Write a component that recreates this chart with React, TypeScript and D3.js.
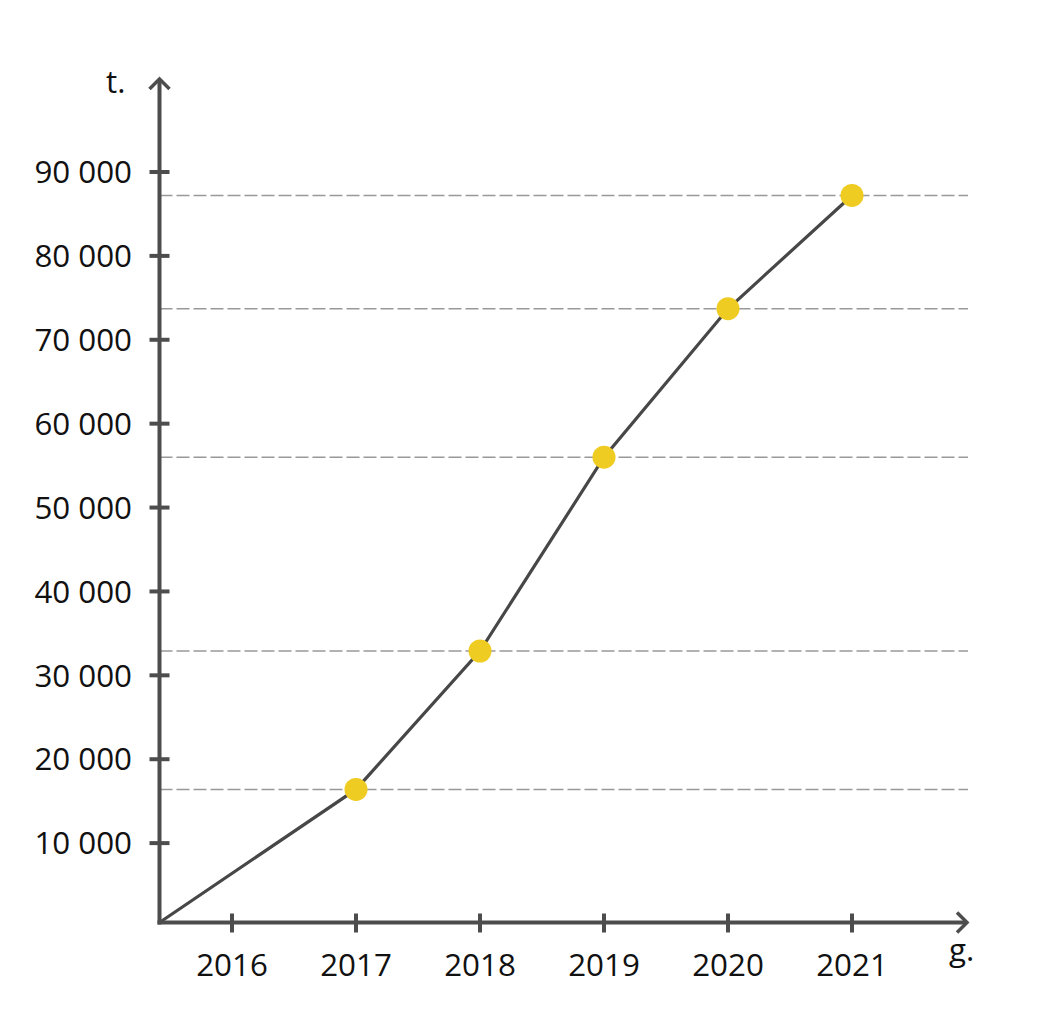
import React from "react";
import * as d3 from "d3";

const years = [2016, 2017, 2018, 2019, 2020, 2021];
const pointYears = [2017, 2018, 2019, 2020, 2021];
const pointValues = [16400, 32900, 56000, 73700, 87200];
const yTicks = [10000, 20000, 30000, 40000, 50000, 60000, 70000, 80000, 90000];
const yUnit = "t.";
const xUnit = "g.";

const W = 1038;
const H = 1014;
const axisX = 159.5;
const axisY = 922.5;
const xEnd = 968;
const yTop = 78;

const x = d3.scaleLinear().domain([2016, 2021]).range([232, 852]);
const y = d3.scaleLinear().domain([0, 90000]).range([927, 172]);

const fmt = (v: number) => d3.format(",")(v).replace(/,/g, " ");

export default function App() {
  const pts: [number, number][] = pointYears.map((yr, i) => [x(yr), y(pointValues[i])]);
  const line = d3.line<[number, number]>()([[axisX, axisY], ...pts]) as string;
  const axisColor = "#4d4d4d";
  const font = "'Open Sans', sans-serif";
  const fs = 31.3;
  return (
    <svg width={W} height={H} style={{ position: "absolute", left: 0, top: 0 }}>
      <rect width={W} height={H} fill="#fff" />
      {pointValues.map((v, i) => (
        <line key={"g" + i} x1={axisX} x2={xEnd} y1={y(v)} y2={y(v)} stroke="#999" strokeWidth={1.5} strokeDasharray="13 4" />
      ))}
      <path d={line} fill="none" stroke="#474747" strokeWidth={3.2} />
      {pts.map((p, i) => (
        <circle key={"c" + i} cx={p[0]} cy={p[1]} r={11.5} fill="#EFCC22" />
      ))}
      <line x1={axisX} x2={axisX} y1={axisY + 2} y2={yTop + 1} stroke={axisColor} strokeWidth={4} />
      <line x1={axisX - 2} x2={xEnd - 1} y1={axisY} y2={axisY} stroke={axisColor} strokeWidth={4} />
      <polyline points={`${axisX - 10},${yTop + 11} ${axisX},${yTop + 1} ${axisX + 10},${yTop + 11}`} fill="none" stroke={axisColor} strokeWidth={3.5} />
      <polyline points={`${xEnd - 11},${axisY - 10} ${xEnd - 1},${axisY} ${xEnd - 11},${axisY + 10}`} fill="none" stroke={axisColor} strokeWidth={3.5} />
      {yTicks.map((t) => (
        <g key={"yt" + t}>
          <line x1={axisX - 10} x2={axisX + 10} y1={y(t)} y2={y(t)} stroke={axisColor} strokeWidth={4} />
          <text x={132} y={y(t)} dy="0.36em" textAnchor="end" fontFamily={font} fontSize={fs} fill="#111">
            {fmt(t)}
          </text>
        </g>
      ))}
      {years.map((yr) => (
        <g key={"xt" + yr}>
          <line x1={x(yr)} x2={x(yr)} y1={axisY - 9} y2={axisY + 10} stroke={axisColor} strokeWidth={4} />
          <text x={x(yr)} y={976} textAnchor="middle" fontFamily={font} fontSize={fs} fill="#111">
            {yr}
          </text>
        </g>
      ))}
      <text x={106} y={93} fontFamily={font} fontSize={fs} fill="#111">{yUnit}</text>
      <text x={949} y={961} fontFamily={font} fontSize={fs} fill="#111">{xUnit}</text>
    </svg>
  );
}
